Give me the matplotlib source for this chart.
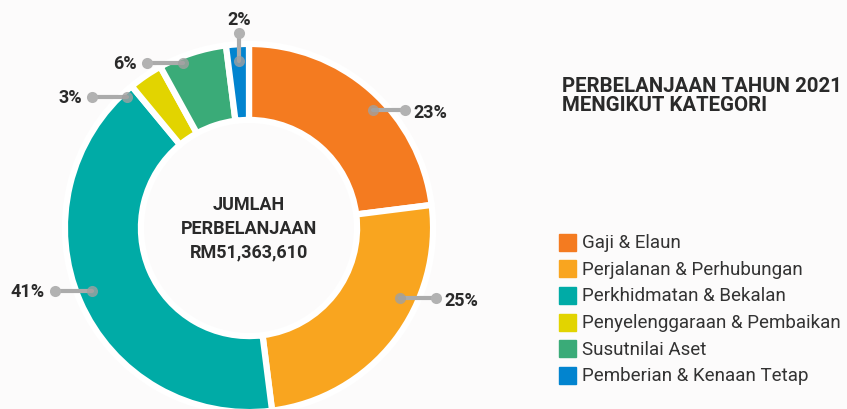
import matplotlib
matplotlib.use('Agg')
import matplotlib.pyplot as plt

plt.rcParams['font.family'] = ['Roboto', 'DejaVu Sans']

# 2021 spending by category (percent of total)
categories = ['Gaji & Elaun', 'Perjalanan & Perhubungan', 'Perkhidmatan & Bekalan',
              'Penyelenggaraan & Pembaikan', 'Susutnilai Aset', 'Pemberian & Kenaan Tetap']
shares = [23, 25, 41, 3, 6, 2]
colors = ['#F47B20', '#F9A51F', '#00ABA6', '#E2D400', '#3AAB78', '#0284CF']
total_label = 'RM51,363,610'

# leader line anchors per slice: (inner point, outer point, text alignment)
label_layout = [
    ((0.685, 0.652), (0.862, 0.652), 'left'),
    ((0.834, -0.387), (1.033, -0.387), 'left'),
    ((-0.867, -0.348), (-1.072, -0.348), 'right'),
    ((-0.674, 0.724), (-0.867, 0.724), 'right'),
    ((-0.365, 0.912), (-0.564, 0.912), 'right'),
    ((-0.055, 0.923), (-0.055, 1.077), 'center'),
]

bg = '#fcfbfb'
ink = '#2a2a2a'

fig = plt.figure(figsize=(8.47, 4.10), dpi=100)
fig.patch.set_facecolor(bg)

ax = fig.add_axes([68 / 847, 0, 362 / 847, 362 / 410])
ax.set_facecolor(bg)
ax.pie(shares, colors=colors, startangle=90, counterclock=False, radius=1.017,
       wedgeprops=dict(width=0.42, edgecolor='white', linewidth=4.5))
ax.set_xlim(-1, 1)
ax.set_ylim(-1, 1)
ax.axis('off')

for share, (p_in, p_out, ha) in zip(shares, label_layout):
    ax.plot([p_in[0], p_out[0]], [p_in[1], p_out[1]], color='#ababab', lw=3,
            solid_capstyle='round', clip_on=False, zorder=3)
    ax.plot(*p_in, 'o', ms=8, color='#a0a0a0', alpha=0.8, mec='none', clip_on=False, zorder=4)
    ax.plot(*p_out, 'o', ms=8, color='#b2b2b2', mec='none', clip_on=False, zorder=4)
    if ha == 'left':
        tx, ty, va = p_out[0] + 0.045, p_out[1] - 0.01, 'center'
    elif ha == 'right':
        tx, ty, va = p_out[0] - 0.055, p_out[1], 'center'
    else:
        tx, ty, va = p_out[0], p_out[1] + 0.075, 'center'
    ax.text(tx, ty, f'{share}%', ha=ha, va=va, fontsize=13, fontweight='bold',
            color=ink, clip_on=False)

ax.text(0, 0.0, 'JUMLAH\nPERBELANJAAN\n' + total_label, ha='center', va='center',
        fontsize=13, fontweight='bold', color=ink, linespacing=1.4)

fig.text(562 / 847, 1 - 96 / 410, 'PERBELANJAAN TAHUN 2021\nMENGIKUT KATEGORI',
         ha='left', va='center', fontsize=14.7, fontweight='bold', color=ink,
         linespacing=1.0)

# legend drawn as squares plus labels
for i, (name, c) in enumerate(zip(categories, colors)):
    y = 243 + i * 26.7
    fig.patches.append(plt.Rectangle((559 / 847, 1 - (y + 8.5) / 410), 17 / 847, 17 / 410,
                                     transform=fig.transFigure, color=c))
    fig.text(582 / 847, 1 - y / 410, name, ha='left', va='center', fontsize=13.5,
             color='#333333')

fig.savefig('out.png', dpi=100, facecolor=bg)
